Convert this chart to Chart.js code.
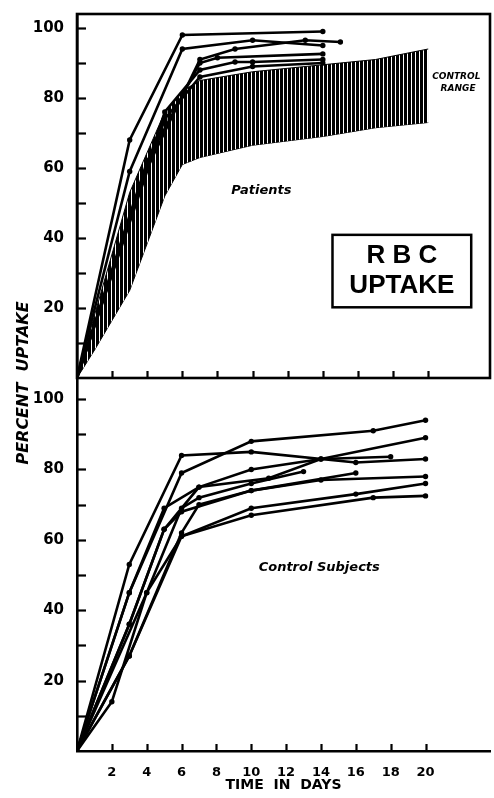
<!DOCTYPE html>
<html>
<head>
<meta charset="utf-8">
<script src="https://cdn.jsdelivr.net/npm/chart.js@4.4.1/dist/chart.umd.min.js"></script>
<style>
  html, body { margin: 0; padding: 0; background: #fff; }
  #wrap { position: relative; width: 494px; height: 798px; }
  #wrap canvas { position: absolute; left: 0; top: 0; }
</style>
</head>
<body>
<div id="wrap">
  <canvas id="patientsChart" width="494" height="798"></canvas>
  <canvas id="controlsChart" width="494" height="798"></canvas>
</div>
<script>
// Patients (top panel) - day of each reading and percent uptake
const patientDays = [
    [0, 3, 6, 14],
    [0, 3, 6, 10, 14],
    [0, 4, 7, 9, 13, 15],
    [0, 4, 7, 8, 14],
    [0, 5, 7, 9, 10, 14],
    [0, 5, 7, 10, 14]
];
const patientUptake = [
    [0, 68, 98, 99],
    [0, 59, 94, 96.5, 95],
    [0, 60, 91, 94, 96.5, 96],
    [0, 62, 90, 91.5, 92.6],
    [0, 76, 88, 90.3, 90.3, 91],
    [0, 74, 86, 89, 90]
];

// Control range band drawn in the top panel
const rangeDays = [0, 1, 3, 5, 6, 7, 10, 14, 17, 20];
const rangeUpper = [0, 18, 53, 76, 82, 85, 87.5, 89.5, 91, 94];
const rangeLower = [0, 8, 25, 52, 61, 63, 66.5, 69, 71.5, 73];

// Control subjects (bottom panel)
const controlDays = [
    [0, 3, 6, 10, 16, 20],
    [0, 3, 6, 10, 17, 20],
    [0, 3, 5, 7, 10, 14, 20],
    [0, 3, 5, 7, 11, 14, 18],
    [0, 4, 6, 7, 10, 13],
    [0, 3, 5, 6, 10, 16],
    [0, 3, 6, 7, 10, 14, 20],
    [0, 2, 4, 6, 10, 16, 20],
    [0, 3, 6, 10, 17, 20]
];
const controlUptake = [
    [0, 53, 84, 85, 82, 83],
    [0, 45, 79, 88, 91, 94],
    [0, 45, 69, 75, 80, 83, 89],
    [0, 36, 63, 75, 77.5, 83, 83.6],
    [0, 45, 69, 72, 76, 79.4],
    [0, 36, 63, 68, 74, 79],
    [0, 27, 62, 70, 74, 77, 78],
    [0, 14, 45, 61, 69, 73, 76],
    [0, 27, 61, 67, 72, 72.5]
];

const boldFont = 'DejaVu Sans';

function toPoints(days, values) {
    return days.map((d, i) => ({ x: d, y: values[i] }));
}

function lineDataset(days, values) {
    return {
        data: toPoints(days, values),
        borderColor: '#000',
        backgroundColor: '#000',
        borderWidth: 2.6,
        pointRadius: ctx => (ctx.raw && ctx.raw.x === 0) ? 0 : 2.7,
        pointBorderWidth: 0,
        tension: 0,
        fill: false
    };
}

function hatchPattern() {
    const c = document.createElement('canvas');
    c.width = 4;
    c.height = 4;
    const g = c.getContext('2d');
    g.fillStyle = '#fff';
    g.fillRect(0, 0, 4, 4);
    g.fillStyle = '#000';
    g.fillRect(0, 0, 3, 4);
    return g.createPattern(c, 'repeat');
}

// tick marks point into the plot, like the original figure
const inwardTicks = {
    id: 'inwardTicks',
    afterDraw(chart, args, opts) {
        const { ctx, chartArea, scales } = chart;
        ctx.save();
        ctx.strokeStyle = '#000';
        ctx.lineWidth = 2.2;
        scales.y.ticks.forEach(t => {
            if (t.value <= 0 || t.value > 100) return;
            const y = Math.round(scales.y.getPixelForValue(t.value)) + 0.5;
            ctx.beginPath();
            ctx.moveTo(chartArea.left, y);
            ctx.lineTo(chartArea.left + 9, y);
            ctx.stroke();
        });
        scales.x.ticks.forEach(t => {
            if (t.value <= 0 || t.value > 20) return;
            const x = Math.round(scales.x.getPixelForValue(t.value)) + 0.5;
            ctx.beginPath();
            ctx.moveTo(x, chartArea.bottom);
            ctx.lineTo(x, chartArea.bottom - 7);
            ctx.stroke();
        });
        if (opts.frame) {
            ctx.lineWidth = 2.6;
            ctx.strokeRect(chartArea.left, chartArea.top, chartArea.right - chartArea.left, chartArea.bottom - chartArea.top);
        }
        ctx.restore();
    }
};

const patientLabels = {
    id: 'patientLabels',
    afterDraw(chart) {
        const { ctx, scales } = chart;
        const px = d => scales.x.getPixelForValue(d);
        const py = v => scales.y.getPixelForValue(v);
        ctx.save();
        ctx.fillStyle = '#000';
        ctx.textAlign = 'center';
        ctx.textBaseline = 'middle';

        ctx.font = `italic bold 13px ${boldFont}`;
        ctx.fillText('Patients', px(10.5), py(53.6));

        ctx.font = `italic bold 9px ${boldFont}`;
        ctx.fillText('CONTROL', px(21.6), py(86.2));
        ctx.fillText('RANGE', px(21.7), py(82.6));

        // RBC UPTAKE box
        const bx0 = px(14.55), bx1 = px(22.45);
        const by0 = py(40.9), by1 = py(20.2);
        ctx.lineWidth = 2.5;
        ctx.strokeStyle = '#000';
        ctx.strokeRect(bx0, by0, bx1 - bx0, by1 - by0);
        ctx.font = `bold 26px "Liberation Sans"`;
        ctx.fillText('R B C', (bx0 + bx1) / 2, py(34.8));
        ctx.fillText('UPTAKE', (bx0 + bx1) / 2, py(26.2));

        // shared y-axis title
        ctx.font = `italic bold 16px ${boldFont}`;
        ctx.translate(24, 383);
        ctx.rotate(-Math.PI / 2);
        ctx.fillText('PERCENT  UPTAKE', 0, 0);
        ctx.restore();
    }
};

const controlLabels = {
    id: 'controlLabels',
    afterDraw(chart) {
        const { ctx, scales } = chart;
        ctx.save();
        ctx.fillStyle = '#000';
        ctx.textAlign = 'center';
        ctx.textBaseline = 'middle';
        ctx.font = `italic bold 13px ${boldFont}`;
        ctx.fillText('Control Subjects', scales.x.getPixelForValue(13.9), scales.y.getPixelForValue(52));
        ctx.restore();
    }
};

function yScale(max) {
    return {
        min: 0,
        max: max,
        afterFit: s => { s.width = 77; },
        grid: { display: false },
        border: { display: true, color: '#000', width: 2.6 },
        ticks: {
            stepSize: 10,
            includeBounds: false,
            padding: 5,
            color: '#000',
            font: { family: boldFont, size: 15, weight: 'bold' },
            callback: v => (v > 0 && v <= 100 && v % 20 === 0) ? String(v) : ''
        }
    };
}

// top panel: patients over the control range
const patientDatasets = patientDays.map((d, i) => lineDataset(d, patientUptake[i]));
patientDatasets.push({
    data: toPoints(rangeDays, rangeUpper),
    borderColor: '#000',
    borderWidth: 1,
    pointRadius: 0,
    backgroundColor: hatchPattern(),
    fill: '+1'
});
patientDatasets.push({
    data: toPoints(rangeDays, rangeLower),
    borderColor: '#000',
    borderWidth: 1,
    pointRadius: 0,
    fill: false
});

new Chart(document.getElementById('patientsChart'), {
    type: 'line',
    data: { datasets: patientDatasets },
    options: {
        responsive: false,
        animation: false,
        devicePixelRatio: 1,
        layout: { padding: { top: 10, right: 3, bottom: 420, left: 0 } },
        plugins: {
            legend: { display: false },
            tooltip: { enabled: false },
            inwardTicks: { frame: true }
        },
        scales: {
            x: {
                type: 'linear',
                min: 0,
                max: 23.52,
                afterFit: s => { s.height = 0; },
                grid: { display: false },
                border: { display: false },
                ticks: { stepSize: 2, includeBounds: false, display: false }
            },
            y: yScale(104)
        }
    },
    plugins: [inwardTicks, patientLabels]
});

// bottom panel: control subjects
new Chart(document.getElementById('controlsChart'), {
    type: 'line',
    data: { datasets: controlDays.map((d, i) => lineDataset(d, controlUptake[i])) },
    options: {
        responsive: false,
        animation: false,
        devicePixelRatio: 1,
        layout: { padding: { top: 378, right: 0, bottom: 0, left: 0 } },
        plugins: {
            legend: { display: false },
            tooltip: { enabled: false },
            inwardTicks: { frame: false }
        },
        scales: {
            x: {
                type: 'linear',
                min: 0,
                max: 23.7,
                afterFit: s => { s.height = 47; },
                grid: { display: false },
                border: { display: true, color: '#000', width: 2.6 },
                ticks: {
                    stepSize: 2,
                    includeBounds: false,
                    padding: 6,
                    maxRotation: 0,
                    autoSkip: false,
                    color: '#000',
                    font: { family: boldFont, size: 13, weight: 'bold' },
                    callback: v => (v > 0 && v <= 20) ? String(v) : ''
                },
                title: {
                    display: true,
                    text: 'TIME  IN  DAYS',
                    color: '#000',
                    padding: { top: 0, bottom: 4 },
                    font: { family: boldFont, size: 14, weight: 'bold' }
                }
            },
            y: yScale(106)
        }
    },
    plugins: [inwardTicks, controlLabels]
});
</script>
</body>
</html>
